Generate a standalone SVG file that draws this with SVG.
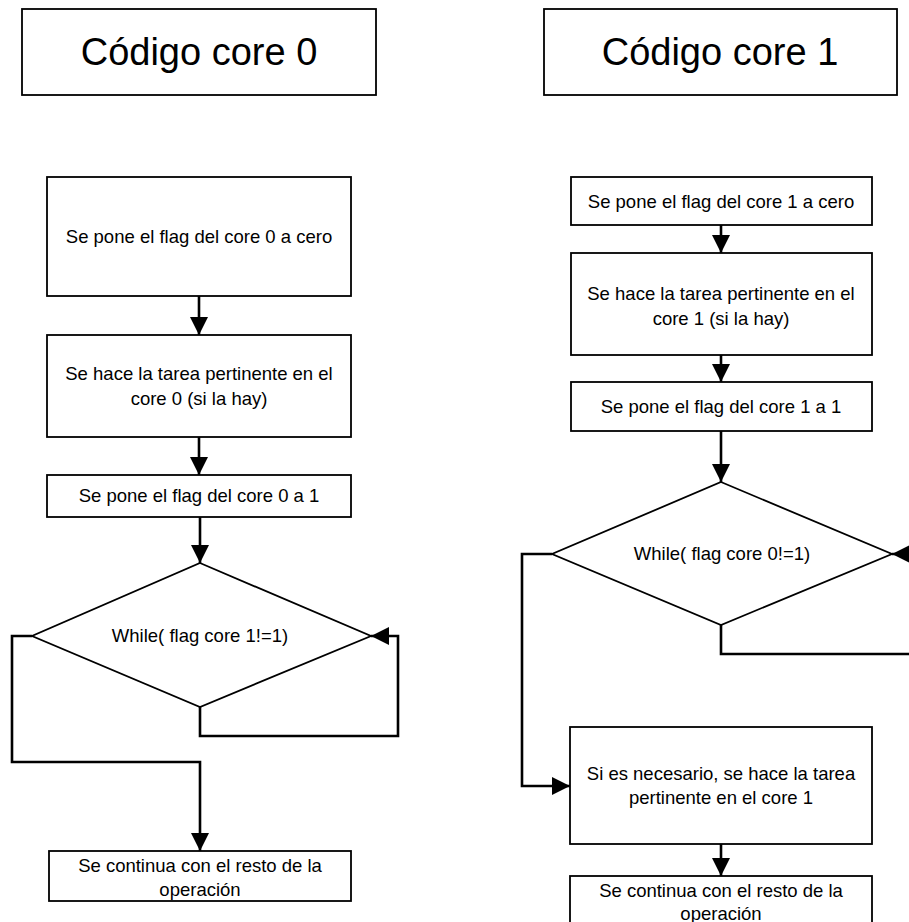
<svg xmlns="http://www.w3.org/2000/svg" width="909" height="922" viewBox="0 0 909 922">
  <style>
    .box { fill: #fff; stroke: #000; stroke-width: 1.8; }
    .title { font-family: "Liberation Sans", Arial, sans-serif; font-size: 38px; fill: #000; text-anchor: middle; }
    .lbl { font-family: "Liberation Sans", Arial, sans-serif; font-size: 18.5px; fill: #000; text-anchor: middle; }
    .wire { fill: none; stroke: #000; stroke-width: 2.6; }
  </style>
  <defs>
    <marker id="arrow" markerUnits="userSpaceOnUse" markerWidth="19" markerHeight="18" refX="18" refY="9" orient="auto">
      <path d="M0,0 L18,9 L0,18 Z" fill="#000"/>
    </marker>
  </defs>

  <rect width="909" height="922" fill="#fff"/>

  <!-- Column titles -->
  <g id="title-core0">
    <rect class="box" x="22" y="9" width="354" height="86"/>
    <text class="title" x="199" y="65">Código core 0</text>
  </g>
  <g id="title-core1">
    <rect class="box" x="544" y="9" width="353" height="86"/>
    <text class="title" x="720" y="65">Código core 1</text>
  </g>

  <!-- Core 0 flow -->
  <g id="c0-flag-zero">
    <rect class="box" x="47" y="177" width="304" height="119"/>
    <text class="lbl" x="199" y="243">Se pone el flag del core 0 a cero</text>
  </g>
  <g id="c0-task">
    <rect class="box" x="47" y="335" width="304" height="102"/>
    <text class="lbl" x="199" y="380">Se hace la tarea pertinente en el</text>
    <text class="lbl" x="199" y="405">core 0 (si la hay)</text>
  </g>
  <g id="c0-flag-one">
    <rect class="box" x="47" y="475" width="304" height="42"/>
    <text class="lbl" x="199" y="502">Se pone el flag del core 0 a 1</text>
  </g>
  <g id="c0-while">
    <polygon class="box" points="200,563 371,636 200,707 32,636"/>
    <text class="lbl" x="200" y="642">While( flag core 1!=1)</text>
  </g>
  <g id="c0-continue">
    <rect class="box" x="49" y="851" width="302" height="50"/>
    <text class="lbl" x="200" y="872">Se continua con el resto de la</text>
    <text class="lbl" x="200" y="896">operación</text>
  </g>

  <!-- Core 1 flow -->
  <g id="c1-flag-zero">
    <rect class="box" x="571" y="177" width="301" height="48"/>
    <text class="lbl" x="721" y="208">Se pone el flag del core 1 a cero</text>
  </g>
  <g id="c1-task">
    <rect class="box" x="571" y="253" width="301" height="102"/>
    <text class="lbl" x="721" y="300">Se hace la tarea pertinente en el</text>
    <text class="lbl" x="721" y="325">core 1 (si la hay)</text>
  </g>
  <g id="c1-flag-one">
    <rect class="box" x="571" y="382" width="301" height="49"/>
    <text class="lbl" x="721" y="413">Se pone el flag del core 1 a 1</text>
  </g>
  <g id="c1-while">
    <polygon class="box" points="721,482 892,554 721,625 552,554"/>
    <text class="lbl" x="722" y="560">While( flag core 0!=1)</text>
  </g>
  <g id="c1-optional-task">
    <rect class="box" x="570" y="727" width="302" height="117"/>
    <text class="lbl" x="721" y="780">Si es necesario, se hace la tarea</text>
    <text class="lbl" x="721" y="804">pertinente en el core 1</text>
  </g>
  <g id="c1-continue">
    <rect class="box" x="570" y="876" width="302" height="56"/>
    <text class="lbl" x="721" y="897">Se continua con el resto de la</text>
    <text class="lbl" x="721" y="920">operación</text>
  </g>

  <!-- Connectors -->
  <g id="connectors">
    <path class="wire" marker-end="url(#arrow)" d="M199,296 V335"/>
    <path class="wire" marker-end="url(#arrow)" d="M199,437 V475"/>
    <path class="wire" marker-end="url(#arrow)" d="M200,517 V563"/>
    <path class="wire" marker-end="url(#arrow)" d="M200,707 V736 H398 V636 H371"/>
    <path class="wire" marker-end="url(#arrow)" d="M32,636 H12 V762 H200 V851"/>

    <path class="wire" marker-end="url(#arrow)" d="M721,225 V253"/>
    <path class="wire" marker-end="url(#arrow)" d="M721,355 V382"/>
    <path class="wire" marker-end="url(#arrow)" d="M721,431 V482"/>
    <path class="wire" marker-end="url(#arrow)" d="M721,625 V654 H925 V554 H892"/>
    <path class="wire" marker-end="url(#arrow)" d="M552,554 H522 V786 H570"/>
    <path class="wire" marker-end="url(#arrow)" d="M721,844 V876"/>
  </g>
</svg>
